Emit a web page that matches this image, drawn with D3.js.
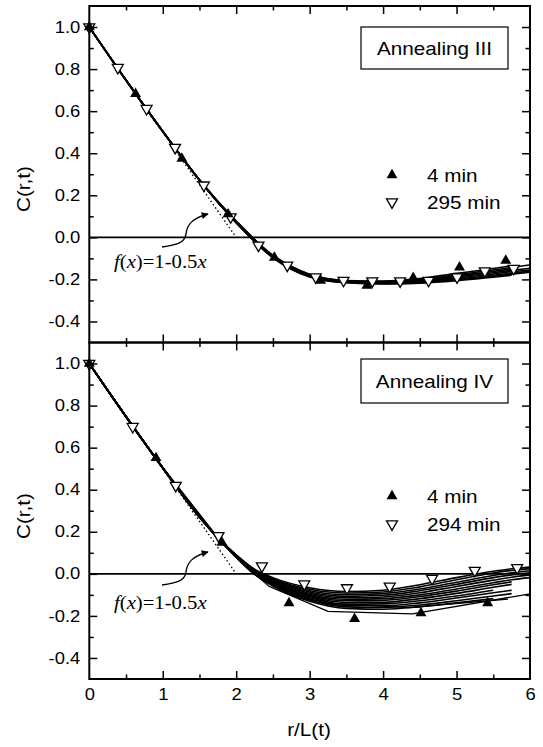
<!DOCTYPE html>
<html><head><meta charset="utf-8">
<script src="https://cdn.jsdelivr.net/npm/d3@7"></script>
<style>
body{margin:0;background:#fff}
svg{display:block}
text{font-family:"Liberation Sans",Arial,Helvetica,sans-serif;fill:#000}
</style>
</head><body>
<svg id="chart" width="543" height="747"></svg>
<script>
// ---------- DATA ----------
const xMajorTicks = [0, 1, 2, 3, 4, 5, 6];
const xMinorTicks = [0.5, 1.5, 2.5, 3.5, 4.5, 5.5];
const yMajorTicks = [-0.4, -0.2, 0.0, 0.2, 0.4, 0.6, 0.8, 1.0];
const yMinorTicks = [-0.3, -0.1, 0.1, 0.3, 0.5, 0.7, 0.9];

const panelTitles = ["Annealing III", "Annealing IV"];
const earlyLabel = "4 min";
const lateLabels = ["295 min", "294 min"];

// Annealing III markers
const topEarlyX = [0, 0.63, 1.26, 1.89, 2.52, 3.15, 3.78, 4.41, 5.04, 5.67];
const topEarlyY = [1.0, 0.682, 0.375, 0.11, -0.096, -0.206, -0.229, -0.193, -0.143, -0.111];
const topLateX = [0, 0.388, 0.78, 1.168, 1.56, 1.924, 2.303, 2.695, 3.083, 3.461, 3.853, 4.232, 4.619, 5.007, 5.385, 5.778];
const topLateY = [1.0, 0.807, 0.612, 0.427, 0.248, 0.097, -0.038, -0.133, -0.189, -0.205, -0.208, -0.208, -0.205, -0.189, -0.160, -0.148];

// Annealing III curves (all times), sampled on a common r/L grid
const topGrid = [0, 0.5, 1, 1.5, 2, 2.5, 3, 3.5, 4, 4.5, 5, 5.5, 5.75, 6];
const topCurves = [
  [1.0, 0.748, 0.505, 0.274, 0.078, -0.085, -0.175, -0.205, -0.208, -0.196, -0.171, -0.148, -0.135, null],
  [1.0, 0.748, 0.505, 0.274, 0.076, -0.087, -0.177, -0.207, -0.210, -0.200, -0.178, -0.155, -0.143, -0.131],
  [1.0, 0.748, 0.505, 0.273, 0.074, -0.089, -0.179, -0.208, -0.212, -0.203, -0.183, -0.162, -0.150, null],
  [1.0, 0.747, 0.504, 0.273, 0.073, -0.091, -0.181, -0.210, -0.214, -0.206, -0.188, -0.168, -0.157, -0.147],
  [1.0, 0.747, 0.504, 0.272, 0.072, -0.093, -0.183, -0.211, -0.216, -0.209, -0.193, -0.174, -0.163, -0.155],
  [1.0, 0.747, 0.503, 0.272, 0.071, -0.094, -0.185, -0.213, -0.218, -0.212, -0.198, -0.180, -0.170, -0.162],
  [1.0, 0.746, 0.503, 0.271, 0.070, -0.096, -0.187, -0.215, -0.220, -0.215, -0.202, -0.185, -0.175, -0.166],
  [1.0, 0.746, 0.503, 0.271, 0.069, -0.097, -0.188, -0.216, -0.222, -0.218, -0.206, -0.190, -0.180, null]
];

// Annealing IV markers
const botEarlyX = [0, 0.908, 1.806, 2.719, 3.612, 4.515, 5.423];
const botEarlyY = [1.0, 0.551, 0.149, -0.139, -0.214, -0.187, -0.139];
const botLateX = [0, 0.591, 1.177, 1.759, 2.350, 2.927, 3.508, 4.090, 4.667, 5.248, 5.825];
const botLateY = [1.0, 0.700, 0.420, 0.181, 0.037, -0.048, -0.067, -0.059, -0.022, 0.016, 0.029];

// Annealing IV curves
const botGrid = [0, 0.5, 1, 1.5, 2, 2.25, 2.5, 3, 3.5, 4, 4.5, 5, 5.5, 5.75, 6];
const botCurves = [
  [1.0, 0.748, 0.505, 0.274, 0.090, 0.022, -0.018, -0.066, -0.084, -0.078, -0.052, -0.018, 0.012, 0.024, 0.032],
  [1.0, 0.748, 0.505, 0.273, 0.088, 0.019, -0.023, -0.073, -0.091, -0.086, -0.062, -0.028, 0.004, 0.016, 0.025],
  [1.0, 0.748, 0.505, 0.273, 0.087, 0.016, -0.028, -0.080, -0.099, -0.094, -0.072, -0.040, -0.008, 0.005, 0.015],
  [1.0, 0.748, 0.505, 0.272, 0.086, 0.013, -0.032, -0.086, -0.107, -0.102, -0.080, -0.050, -0.018, -0.005, 0.005],
  [1.0, 0.748, 0.504, 0.272, 0.085, 0.011, -0.036, -0.092, -0.114, -0.110, -0.090, -0.060, -0.030, -0.016, -0.005],
  [1.0, 0.747, 0.504, 0.271, 0.084, 0.009, -0.040, -0.098, -0.121, -0.118, -0.100, -0.072, -0.042, -0.028, -0.018],
  [1.0, 0.747, 0.504, 0.271, 0.083, 0.007, -0.043, -0.103, -0.128, -0.126, -0.108, -0.082, -0.052, -0.038, null],
  [1.0, 0.747, 0.503, 0.270, 0.082, 0.005, -0.046, -0.108, -0.136, -0.135, -0.118, -0.093, -0.064, -0.050, null],
  [1.0, 0.747, 0.503, 0.270, 0.081, 0.003, -0.049, -0.114, -0.144, -0.143, -0.128, -0.105, -0.078, null, null],
  [1.0, 0.746, 0.503, 0.269, 0.080, 0.001, -0.052, -0.119, -0.151, -0.152, -0.138, -0.115, -0.090, -0.078, null],
  [1.0, 0.746, 0.502, 0.269, 0.079, -0.001, -0.055, -0.124, -0.157, -0.160, -0.148, -0.128, -0.105, -0.094, null],
  [1.0, 0.746, 0.502, 0.268, 0.078, -0.003, -0.058, -0.130, -0.164, -0.168, -0.157, -0.138, -0.118, null, null]
];
// coarse early-time curves (straight segments)
const botCoarseAX = [0, 0.9, 1.8, 2.25, 2.45, 3.25, 4.4, 6.0];
const botCoarseAY = [1.0, 0.55, 0.15, 0.0, -0.06, -0.178, -0.19, -0.095];
const botCoarseBX = [0, 0.9, 1.8, 2.3, 2.55, 3.3, 4.35, 5.7];
const botCoarseBY = [1.0, 0.55, 0.15, 0.0, -0.05, -0.14, -0.16, -0.12];

// guide line f(x)=1-0.5x
const guideX = [0, 2];
const guideY = [1.0, 0.0];

// ---------- LAYOUT ----------
const svg = d3.select("#chart");
const X0 = 89.3, X1 = 530;
const panels = [
  {top: 6, bottom: 342.5, title: panelTitles[0], late: lateLabels[0],
   earlyX: topEarlyX, earlyY: topEarlyY, lateX: topLateX, lateY: topLateY,
   grid: topGrid, curves: topCurves, coarse: [],
   box: [361, 27, 147, 42], legY: [175, 202], annY: 268, arrowDY: 0, ylabY: 189},
  {top: 342.5, bottom: 679, title: panelTitles[1], late: lateLabels[1],
   earlyX: botEarlyX, earlyY: botEarlyY, lateX: botLateX, lateY: botLateY,
   grid: botGrid, curves: botCurves, coarse: [[botCoarseAX, botCoarseAY], [botCoarseBX, botCoarseBY]],
   box: [361, 359, 147, 44], legY: [496, 524], annY: 609, arrowDY: 337, ylabY: 516}
];

const x = d3.scaleLinear().domain([0, 6]).range([X0, X1]);
const STRETCH = 1.15;

svg.append("defs").append("marker")
  .attr("id", "arr").attr("viewBox", "0 0 10 10").attr("refX", 9).attr("refY", 5)
  .attr("markerWidth", 9).attr("markerHeight", 7).attr("markerUnits", "userSpaceOnUse")
  .attr("orient", "auto")
  .append("path").attr("d", "M0,0 L10,5 L0,10 Z").attr("fill", "#000");

panels.forEach((p, i) => {
  const y = d3.scaleLinear().domain([-0.5, 1.1]).range([p.bottom, p.top]);
  const g = svg.append("g");

  // zero line
  g.append("line").attr("x1", X0).attr("x2", X1).attr("y1", y(0)).attr("y2", y(0))
    .attr("stroke", "#000").attr("stroke-width", 1.7);

  // guide line (dotted)
  g.append("path")
    .attr("d", d3.line().x(d => x(d[0])).y(d => y(d[1]))(guideX.map((v, k) => [v, guideY[k]])))
    .attr("fill", "none").attr("stroke", "#000").attr("stroke-width", 1.4)
    .attr("stroke-dasharray", "1.4,2.6");

  // curves
  const line = d3.line().defined(d => d[1] !== null).x(d => x(d[0])).y(d => y(d[1]))
    .curve(d3.curveMonotoneX);
  p.curves.forEach(c => {
    g.append("path").attr("d", line(p.grid.map((gx, k) => [gx, c[k]])))
      .attr("fill", "none").attr("stroke", "#000").attr("stroke-width", 1.6);
  });
  const lineLin = d3.line().x(d => x(d[0])).y(d => y(d[1]));
  p.coarse.forEach(([cx, cy]) => {
    g.append("path").attr("d", lineLin(cx.map((v, k) => [v, cy[k]])))
      .attr("fill", "none").attr("stroke", "#000").attr("stroke-width", 1.3);
  });

  // markers
  const tri = d3.symbol().type(d3.symbolTriangle).size(52);
  g.selectAll(".late").data(p.lateX.map((v, k) => [v, p.lateY[k]])).join("path")
    .attr("d", tri).attr("transform", d => `translate(${x(d[0])},${y(d[1])}) rotate(180)`)
    .attr("fill", "#fff").attr("stroke", "#000").attr("stroke-width", 1.3);
  g.selectAll(".early").data(p.earlyX.map((v, k) => [v, p.earlyY[k]])).join("path")
    .attr("d", tri).attr("transform", d => `translate(${x(d[0])},${y(d[1])})`)
    .attr("fill", "#000");

  // axes
  const fmt = d => d.toFixed(1);
  const styleAxis = sel => {
    sel.select(".domain").remove();
    sel.selectAll("line").attr("stroke-width", 1.5);
  };
  g.append("g").attr("transform", `translate(${X0},0)`)
    .call(d3.axisLeft(y).tickValues(yMajorTicks).tickSize(-8).tickPadding(0).tickFormat(fmt))
    .call(styleAxis)
    .call(s => s.selectAll("text").attr("x", 0).attr("font-size", 16)
      .attr("transform", `translate(-9,0) scale(${STRETCH},1)`));
  g.append("g").attr("transform", `translate(${X0},0)`)
    .call(d3.axisLeft(y).tickValues(yMinorTicks).tickSize(-4.5).tickFormat(""))
    .call(styleAxis);
  g.append("g").attr("transform", `translate(${X1},0)`)
    .call(d3.axisRight(y).tickValues(yMajorTicks).tickSize(-8).tickFormat(""))
    .call(styleAxis);
  g.append("g").attr("transform", `translate(${X1},0)`)
    .call(d3.axisRight(y).tickValues(yMinorTicks).tickSize(-4.5).tickFormat(""))
    .call(styleAxis);
  g.append("g").attr("transform", `translate(0,${p.top})`)
    .call(d3.axisTop(x).tickValues(xMajorTicks.slice(1, -1)).tickSize(-8).tickFormat(""))
    .call(styleAxis);
  g.append("g").attr("transform", `translate(0,${p.top})`)
    .call(d3.axisTop(x).tickValues(xMinorTicks).tickSize(-4.5).tickFormat(""))
    .call(styleAxis);
  const bot = g.append("g").attr("transform", `translate(0,${p.bottom})`)
    .call(d3.axisBottom(x).tickValues(xMajorTicks).tickSize(-8).tickPadding(10)
      .tickFormat(i === 1 ? d3.format("d") : ""))
    .call(styleAxis);
  bot.selectAll("text").attr("font-size", 16).attr("transform", `scale(${STRETCH},1)`);
  bot.selectAll(".tick").filter(d => d === 0 || d === 6).select("line").remove();
  g.append("g").attr("transform", `translate(0,${p.bottom})`)
    .call(d3.axisBottom(x).tickValues(xMinorTicks).tickSize(-4.5).tickFormat(""))
    .call(styleAxis);

  // frame
  g.append("rect").attr("x", X0).attr("y", p.top).attr("width", X1 - X0).attr("height", p.bottom - p.top)
    .attr("fill", "none").attr("stroke", "#000").attr("stroke-width", 2);

  // title box
  g.append("rect").attr("x", p.box[0]).attr("y", p.box[1]).attr("width", p.box[2]).attr("height", p.box[3])
    .attr("fill", "#fff").attr("stroke", "#000").attr("stroke-width", 1.2);
  g.append("text").attr("text-anchor", "middle").attr("font-size", 18)
    .attr("transform", `translate(${p.box[0] + p.box[2] / 2},${p.box[1] + p.box[3] / 2 + 6.5}) scale(${STRETCH},1)`)
    .text(p.title);

  // legend
  g.append("path").attr("d", tri).attr("transform", `translate(392,${p.legY[0]})`).attr("fill", "#000");
  g.append("path").attr("d", tri).attr("transform", `translate(392,${p.legY[1]}) rotate(180)`)
    .attr("fill", "#fff").attr("stroke", "#000").attr("stroke-width", 1.3);
  g.append("text").attr("font-size", 18)
    .attr("transform", `translate(427,${p.legY[0] + 6.5}) scale(${STRETCH},1)`).text(earlyLabel);
  g.append("text").attr("font-size", 18)
    .attr("transform", `translate(427,${p.legY[1] + 6.5}) scale(${STRETCH},1)`).text(p.late);

  // annotation
  const ann = g.append("text").attr("font-size", 18)
    .attr("transform", `translate(114,${p.annY}) scale(${STRETCH},1)`)
    .style("font-family", '"Liberation Serif","Times New Roman",serif');
  ann.append("tspan").attr("font-style", "italic").text("f");
  ann.append("tspan").text("(");
  ann.append("tspan").attr("font-style", "italic").text("x");
  ann.append("tspan").text(")=1-0.5");
  ann.append("tspan").attr("font-style", "italic").text("x");

  const d = p.arrowDY + (i === 1 ? 1 : 0);
  g.append("path")
    .attr("d", `M162,${247 + d} C176,${245 + d} 185,${243 + d} 186,${234 + d} C187,${225 + d} 192,${218 + d} 208,${214 + d}`)
    .attr("fill", "none").attr("stroke", "#000").attr("stroke-width", 1.4)
    .attr("marker-end", "url(#arr)");

  // y title
  g.append("text").attr("text-anchor", "middle").attr("font-size", 18)
    .attr("transform", `translate(30,${p.ylabY}) rotate(-90) scale(${STRETCH},1)`)
    .text("C(r,t)");
});

// x title
svg.append("text").attr("text-anchor", "middle").attr("font-size", 18)
  .attr("transform", `translate(309,736) scale(${STRETCH},1)`).text("r/L(t)");
</script>
</body></html>
